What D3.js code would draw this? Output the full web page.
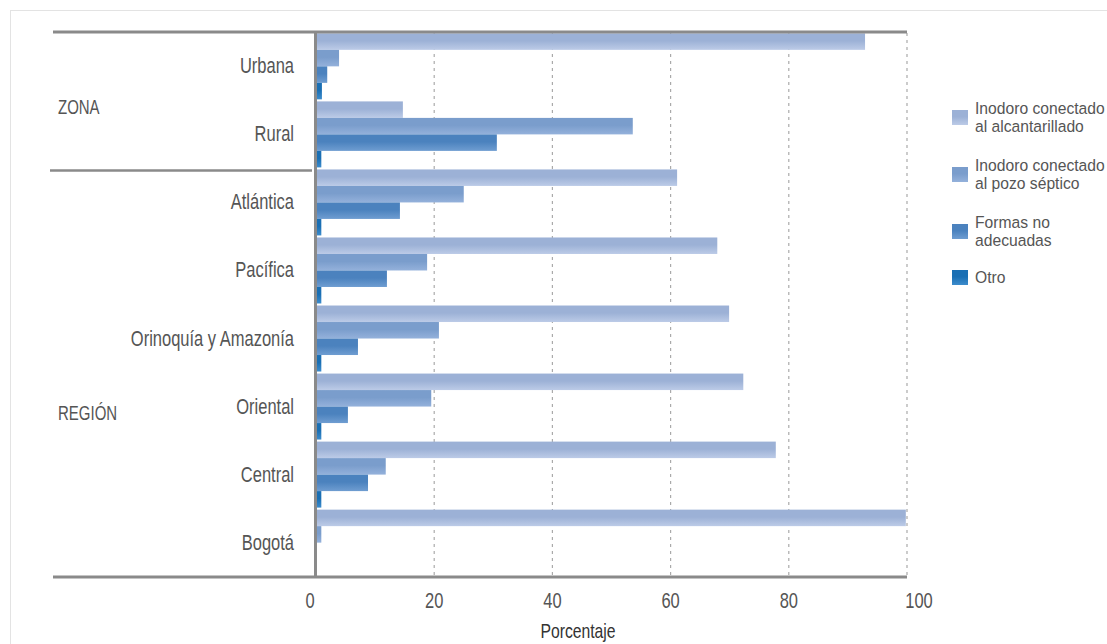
<!DOCTYPE html>
<html><head><meta charset="utf-8">
<script src="https://cdn.jsdelivr.net/npm/d3@7"></script>
<style>
body{margin:0;background:#fff;}
text{font-family:"Liberation Sans","Arial",sans-serif;fill:#555;}
</style></head>
<body><svg id="c" width="1107" height="644"></svg>
<script>
const categories = ["Urbana","Rural","Atlántica","Pacífica","Orinoquía y Amazonía","Oriental","Central","Bogotá"];
const seriesNames = ["Inodoro conectado al alcantarillado","Inodoro conectado al pozo séptico","Formas no adecuadas","Otro"];
const alcantarillado = [92.9,14.7,61.1,67.9,69.9,72.3,77.8,99.8];
const pozoSeptico    = [3.9,53.6,25.0,18.8,20.8,19.5,11.8,0.9];
const formasNoAdec   = [1.9,30.6,14.2,12.0,7.1,5.4,8.8,0];
const otro           = [1.0,0.9,0.9,0.9,0.9,0.9,0.9,0];
const xTicks = [0,20,40,60,80,100];
const groups = [{name:"ZONA",cats:["Urbana","Rural"]},{name:"REGIÓN",cats:["Atlántica","Pacífica","Orinoquía y Amazonía","Oriental","Central","Bogotá"]}];
const legendLines = [["Inodoro conectado","al alcantarillado"],["Inodoro conectado","al pozo séptico"],["Formas no","adecuadas"],["Otro"]];

const values = [alcantarillado,pozoSeptico,formasNoAdec,otro];
const colTop = ["#9cb1d6","#7a9dcc","#4b82be","#1a6fb4"];
const colBot = ["#bccbe7","#94b1db","#6f9dd1","#3d8ccc"];
const SX = 0.75;

const svg = d3.select("#c");
const defs = svg.append("defs");
colTop.forEach((c,i)=>{
  const g = defs.append("linearGradient").attr("id","g"+i).attr("x1",0).attr("y1",0).attr("x2",0).attr("y2",1);
  g.append("stop").attr("offset","0%").attr("stop-color",c);
  g.append("stop").attr("offset","45%").attr("stop-color",c);
  g.append("stop").attr("offset","100%").attr("stop-color",colBot[i]);
});

function txt(x,y,str,size,anchor,color,sx){
  const t = svg.append("text").attr("transform",`translate(${x},${y}) scale(${sx||SX},1)`)
    .attr("text-anchor",anchor||"start").style("font-size",size+"px").text(str);
  if(color) t.style("fill",color);
  return t;
}

// outer frame
svg.append("line").attr("x1",10).attr("x2",1107).attr("y1",10.5).attr("y2",10.5).attr("stroke","#e3e3e3");
svg.append("line").attr("x1",10.5).attr("x2",10.5).attr("y1",10).attr("y2",644).attr("stroke","#e3e3e3");

const x = d3.scaleLinear().domain([0,100]).range([316,907]);
const y = d3.scaleBand().domain(categories).range([32,577]).paddingInner(0.03).paddingOuter(0.02);
const ys = d3.scaleBand().domain(d3.range(4)).range([0,y.bandwidth()]);

// gridlines
svg.append("g").selectAll("line").data(xTicks.filter(d=>d>0)).join("line")
  .attr("x1",d=>x(d)).attr("x2",d=>x(d)).attr("y1",33).attr("y2",576)
  .attr("stroke","#aaa").attr("stroke-width",1.2).attr("stroke-dasharray","3,4");

// bars
categories.forEach((c,ci)=>{
  values.forEach((arr,si)=>{
    const v = arr[ci];
    if(v<=0) return;
    svg.append("rect").attr("x",x(0)).attr("y",y(c)+ys(si))
      .attr("width",x(v)-x(0)).attr("height",ys.bandwidth())
      .attr("fill","url(#g"+si+")");
  });
});

// borders
svg.append("line").attr("x1",53).attr("x2",x(100)).attr("y1",32).attr("y2",32).attr("stroke","#8a8a8a").attr("stroke-width",3);
svg.append("line").attr("x1",53).attr("x2",x(100)).attr("y1",577).attr("y2",577).attr("stroke","#8a8a8a").attr("stroke-width",3);
svg.append("line").attr("x1",x(0)-0.5).attr("x2",x(0)-0.5).attr("y1",31).attr("y2",578).attr("stroke","#8a8a8a").attr("stroke-width",3);
// group separator
const sepY = y(groups[1].cats[0]) - y.step()*y.paddingInner()/2 + 2;
svg.append("line").attr("x1",50).attr("x2",312).attr("y1",sepY).attr("y2",sepY).attr("stroke","#8a8a8a").attr("stroke-width",2.5);

// category labels
categories.forEach(d=>{
  txt(294, y(d)+y.bandwidth()/2+7, d, 22, "end");
});

// group labels
const grpY = [107,413];
groups.forEach((g,i)=>{ txt(58, grpY[i]+7, g.name, 20, "start"); });

// x tick labels
xTicks.forEach(d=>{
  txt(x(d)+(d===0?-6:(d===100?12:0)), 608, d, 22, "middle");
});
txt(578, 638, "Porcentaje", 21, "middle", "#333");

// legend
const legY = [117,174,231,277];
legendLines.forEach((lines,i)=>{
  const gy = legY[i];
  svg.append("rect").attr("x",952).attr("y",gy-7).attr("width",16).attr("height",15).attr("fill","url(#g"+i+")");
  const off = lines.length===2 ? -9.5 : 0;
  const t = svg.append("text").attr("transform",`translate(975,${gy+off+6}) scale(0.95,1)`).style("font-size","16.5px");
  lines.forEach((l,j)=>{ t.append("tspan").attr("x",0).attr("dy",j===0?0:19).text(l); });
});
</script></body></html>
